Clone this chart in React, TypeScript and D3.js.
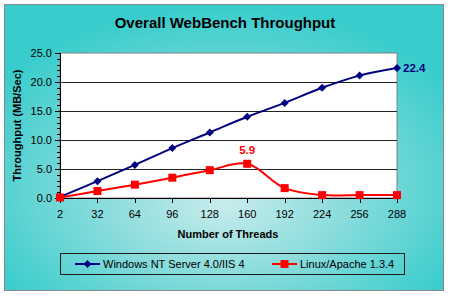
import React from "react";
import * as d3 from "d3";

const categories = ["2", "32", "64", "96", "128", "160", "192", "224", "256", "288"];
const windowsValues = [0.2, 2.9, 5.7, 8.6, 11.3, 14.0, 16.4, 19.0, 21.1, 22.4];
const linuxValues = [0.1, 1.2, 2.3, 3.5, 4.8, 5.9, 1.7, 0.5, 0.5, 0.5];
const yTicks = [0, 5, 10, 15, 20, 25];
const seriesNames = ["Windows NT Server 4.0/IIS 4", "Linux/Apache 1.3.4"];
const title = "Overall WebBench Throughput";
const xTitle = "Number of Threads";
const yTitle = "Throughput (MB/Sec)";

const W = 450;
const H = 296;
const plot = { left: 60, top: 53, right: 397, bottom: 198 };
const FONT = "'Liberation Sans', Arial, sans-serif";

export default function App() {
  const x = d3
    .scalePoint<string>()
    .domain(categories)
    .range([plot.left, plot.right]);
  const y = d3.scaleLinear().domain([0, 25]).range([plot.bottom, plot.top]);
  const minor = d3.range(0, 26, 1);

  const line = d3
    .line<number>()
    .x((_, i) => x(categories[i]) as number)
    .y((d) => y(d))
    .curve(d3.curveCatmullRom.alpha(0.5));

  const diamond = (cx: number, cy: number, r: number) =>
    `M${cx},${cy - r}L${cx + r},${cy}L${cx},${cy + r}L${cx - r},${cy}Z`;

  const blue = "#000080";
  const red = "#FF0000";

  const lastI = categories.length - 1;
  const peakI = linuxValues.indexOf(d3.max(linuxValues) as number);

  return (
    <svg
      width={W}
      height={H}
      style={{ position: "absolute", left: 0, top: 0, display: "block" }}
    >
      <defs>
        <radialGradient id="bg" cx="0.5" cy="0.62" r="0.62" fx="0.5" fy="0.7">
          <stop offset="0" stopColor="#C8ECEC" />
          <stop offset="0.45" stopColor="#8ADCDC" />
          <stop offset="1" stopColor="#38CCCC" />
        </radialGradient>
      </defs>
      <rect x={0} y={0} width={W} height={H} fill="#ffffff" />
      <rect
        x={4.5}
        y={4.5}
        width={439}
        height={286}
        fill="url(#bg)"
        stroke="#8a8a8a"
        strokeWidth={1}
      />
      <text
        x={225}
        y={28}
        textAnchor="middle"
        fontFamily={FONT}
        fontWeight="bold"
        fontSize={15}
        fill="#000"
      >
        {title}
      </text>

      {/* plot area */}
      <rect
        x={plot.left}
        y={plot.top}
        width={plot.right - plot.left}
        height={plot.bottom - plot.top}
        fill="#ffffff"
        stroke="#808080"
        strokeWidth={1}
      />
      {yTicks
        .filter((t) => t > 0 && t < 25)
        .map((t) => (
          <line
            key={"g" + t}
            x1={plot.left}
            x2={plot.right}
            y1={Math.round(y(t)) + 0.5}
            y2={Math.round(y(t)) + 0.5}
            stroke="#222"
            strokeWidth={1}
          />
        ))}

      {/* y axis */}
      <line
        x1={plot.left + 0.5}
        x2={plot.left + 0.5}
        y1={plot.top}
        y2={plot.bottom}
        stroke="#000"
      />
      {minor.map((t) => (
        <line
          key={"m" + t}
          x1={plot.left - 3}
          x2={plot.left}
          y1={Math.round(y(t)) + 0.5}
          y2={Math.round(y(t)) + 0.5}
          stroke="#000"
        />
      ))}
      {yTicks.map((t) => (
        <g key={"y" + t}>
          <line
            x1={plot.left - 5}
            x2={plot.left}
            y1={Math.round(y(t)) + 0.5}
            y2={Math.round(y(t)) + 0.5}
            stroke="#000"
          />
          <text
            x={plot.left - 8}
            y={y(t) + 4}
            textAnchor="end"
            fontFamily={FONT}
            fontSize={11}
            fill="#000"
          >
            {t.toFixed(1)}
          </text>
        </g>
      ))}

      {/* x axis */}
      <line
        x1={plot.left}
        x2={plot.right}
        y1={plot.bottom + 0.5}
        y2={plot.bottom + 0.5}
        stroke="#000"
      />
      {categories.map((c) => (
        <g key={"x" + c}>
          <line
            x1={Math.round(x(c) as number) + 0.5}
            x2={Math.round(x(c) as number) + 0.5}
            y1={plot.bottom}
            y2={plot.bottom + 5}
            stroke="#000"
          />
          <text
            x={x(c) as number}
            y={218}
            textAnchor="middle"
            fontFamily={FONT}
            fontSize={11}
            fill="#000"
          >
            {c}
          </text>
        </g>
      ))}

      <text
        x={228}
        y={238}
        textAnchor="middle"
        fontFamily={FONT}
        fontWeight="bold"
        fontSize={11}
        fill="#000"
      >
        {xTitle}
      </text>
      <text
        transform={`translate(21,${(plot.top + plot.bottom) / 2}) rotate(-90)`}
        textAnchor="middle"
        fontFamily={FONT}
        fontWeight="bold"
        fontSize={11}
        fill="#000"
      >
        {yTitle}
      </text>

      {/* series */}
      <path d={line(linuxValues) || ""} fill="none" stroke={red} strokeWidth={2} />
      <path d={line(windowsValues) || ""} fill="none" stroke={blue} strokeWidth={2} />
      {windowsValues.map((v, i) => (
        <path
          key={"wd" + i}
          d={diamond(x(categories[i]) as number, y(v), 4)}
          fill={blue}
        />
      ))}
      {linuxValues.map((v, i) => (
        <rect
          key={"ls" + i}
          x={(x(categories[i]) as number) - 4}
          y={y(v) - 4}
          width={8}
          height={8}
          fill={red}
        />
      ))}

      <text
        x={(x(categories[lastI]) as number) + 6}
        y={y(windowsValues[lastI]) + 4}
        fontFamily={FONT}
        fontWeight="bold"
        fontSize={11.5}
        fill={blue}
      >
        {windowsValues[lastI].toFixed(1)}
      </text>
      <text
        x={x(categories[peakI]) as number}
        y={y(linuxValues[peakI]) - 10}
        textAnchor="middle"
        fontFamily={FONT}
        fontWeight="bold"
        fontSize={11.5}
        fill={red}
      >
        {linuxValues[peakI].toFixed(1)}
      </text>

      {/* legend */}
      <rect
        x={60.5}
        y={253.5}
        width={344}
        height={21}
        fill="none"
        stroke="#1a1a1a"
        strokeWidth={1}
      />
      <line x1={75} x2={100} y1={264} y2={264} stroke={blue} strokeWidth={2} />
      <path d={diamond(87.5, 264, 4)} fill={blue} />
      <text x={103} y={268} fontFamily={FONT} fontSize={11} fill="#000">
        {seriesNames[0]}
      </text>
      <line x1={272} x2={297} y1={264} y2={264} stroke={red} strokeWidth={2} />
      <rect x={280.5} y={260} width={8} height={8} fill={red} />
      <text x={300} y={268} fontFamily={FONT} fontSize={11} fill="#000">
        {seriesNames[1]}
      </text>
    </svg>
  );
}
